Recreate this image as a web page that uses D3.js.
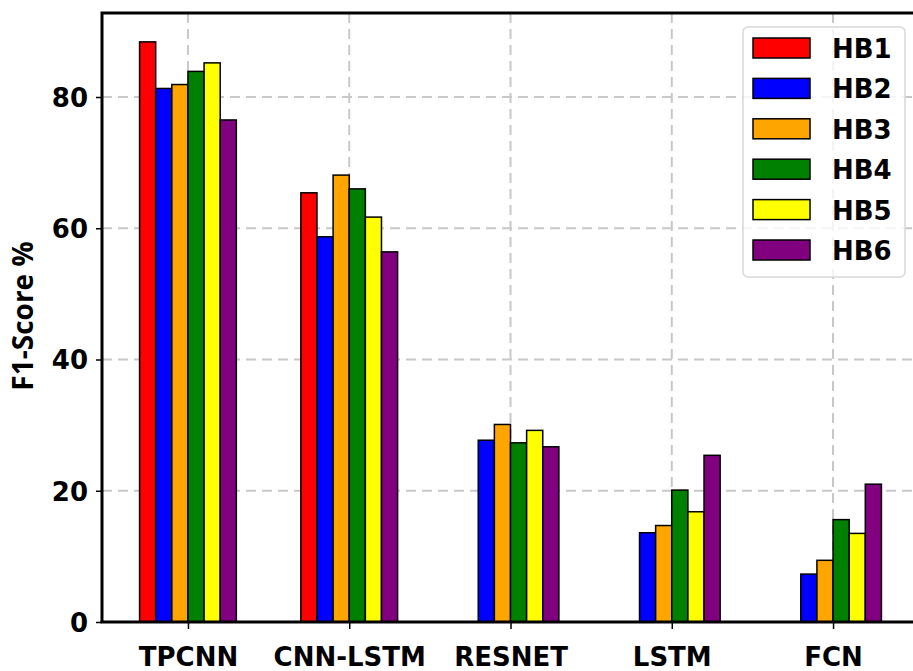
<!DOCTYPE html>
<html>
<head>
<meta charset="utf-8">
<script src="https://cdn.jsdelivr.net/npm/d3@7"></script>
<style>
  body { margin: 0; background: #fff; }
  svg { display: block; }
</style>
</head>
<body>
<div class="chart"></div>
<script>
// data
var models = ["TPCNN", "CNN-LSTM", "RESNET", "LSTM", "FCN"];
var series = ["HB1", "HB2", "HB3", "HB4", "HB5", "HB6"];
var colors = ["#ff0000", "#0000ff", "#ffa500", "#008000", "#ffff00", "#800080"];
// one array per model, in HB1..HB6 order
var tpcnn   = [88.4, 81.3, 81.9, 83.9, 85.2, 76.5];
var cnnLstm = [65.4, 58.7, 68.1, 66.0, 61.7, 56.4];
var resnet  = [0,    27.7, 30.1, 27.3, 29.2, 26.7];
var lstm    = [0,    13.6, 14.7, 20.1, 16.8, 25.4];
var fcn     = [0,     7.3,  9.4, 15.6, 13.5, 21.0];
var yTicks = [0, 20, 40, 60, 80];

var values = [tpcnn, cnnLstm, resnet, lstm, fcn];

function draw() {
  var width = 913, height = 671;
  var pLeft = 102, pTop = 13, pBottom = 622, pRight = 919;
  var barW = 0.1;

  var svg = d3.select(".chart").append("svg")
    .attr("width", width).attr("height", height);

  // category positions as numbers, like the bar offsets in matplotlib
  var x = d3.scaleLinear().domain([-0.533, 4.533]).range([pLeft, pRight]);
  var y = d3.scaleLinear().domain([0, 92.8]).range([pBottom, pTop]);

  // grid
  var grid = svg.append("g").attr("stroke", "#c8c8c8").attr("stroke-width", 2)
    .attr("stroke-dasharray", "10,6");
  grid.selectAll("line.h").data(yTicks.slice(1)).enter().append("line")
    .attr("x1", pLeft).attr("x2", width)
    .attr("y1", function (d) { return y(d); }).attr("y2", function (d) { return y(d); });
  grid.selectAll("line.v").data(models).enter().append("line")
    .attr("x1", function (d, i) { return x(i); }).attr("x2", function (d, i) { return x(i); })
    .attr("y1", pTop).attr("y2", pBottom);

  // bars
  var cells = [];
  values.forEach(function (row, m) {
    row.forEach(function (v, s) { cells.push({ m: m, s: s, v: v }); });
  });
  svg.append("g").selectAll("rect").data(cells.filter(function (d) { return d.v > 0; }))
    .enter().append("rect")
    .attr("x", function (d) { return x(d.m + (d.s - 3) * barW); })
    .attr("width", function () { return x(barW) - x(0); })
    .attr("y", function (d) { return y(d.v); })
    .attr("height", function (d) { return y(0) - y(d.v); })
    .attr("fill", function (d) { return colors[d.s]; })
    .attr("stroke", "#000").attr("stroke-width", 1.5);

  // axes
  var yAxis = d3.axisLeft(y).tickValues(yTicks).tickSize(6).tickPadding(8);
  var gy = svg.append("g").attr("transform", "translate(" + pLeft + ",0)").call(yAxis);
  var xAxis = d3.axisBottom(x).tickValues(d3.range(models.length))
    .tickFormat(function (d) { return models[d]; }).tickSize(7).tickPadding(19);
  var gx = svg.append("g").attr("transform", "translate(0," + pBottom + ")").call(xAxis);

  [gx, gy].forEach(function (g) {
    g.select(".domain").remove();
    g.selectAll(".tick line").attr("stroke", "#000").attr("stroke-width", 1.5);
    g.selectAll(".tick text")
      .style("font-family", "DejaVu Sans").style("font-weight", "bold")
      .style("font-size", "26px").attr("fill", "#000");
  });
  gy.selectAll(".tick text").attr("dy", "0.36em");

  // spines
  var spine = svg.append("g").attr("stroke", "#000").attr("stroke-width", 3).attr("fill", "none");
  spine.append("path").attr("d", "M" + pLeft + "," + pBottom + "V" + pTop + "H" + pRight);
  spine.append("line").attr("x1", pLeft - 1.5).attr("x2", width).attr("y1", pBottom).attr("y2", pBottom);

  // y label
  svg.append("text")
    .attr("transform", "translate(33,316) rotate(-90)")
    .attr("text-anchor", "middle")
    .style("font-family", "Open Sans").style("font-weight", "bold").style("font-size", "28px")
    .text("F1-Score %");

  // legend
  var lg = svg.append("g").attr("transform", "translate(743,27)");
  lg.append("rect").attr("width", 162).attr("height", 250).attr("rx", 5)
    .attr("fill", "#fff").attr("fill-opacity", 0.8).attr("stroke", "#d8d8d8").attr("stroke-width", 1.5);
  var items = lg.selectAll("g.item").data(series).enter().append("g")
    .attr("transform", function (d, i) { return "translate(10," + (11 + i * 40.4) + ")"; });
  items.append("rect").attr("width", 57).attr("height", 20)
    .attr("fill", function (d, i) { return colors[i]; })
    .attr("stroke", "#000").attr("stroke-width", 1.5);
  items.append("text").attr("x", 79).attr("y", 20)
    .style("font-family", "DejaVu Sans").style("font-weight", "bold").style("font-size", "26px")
    .text(function (d) { return d; });
}

draw();
</script>
</body>
</html>
